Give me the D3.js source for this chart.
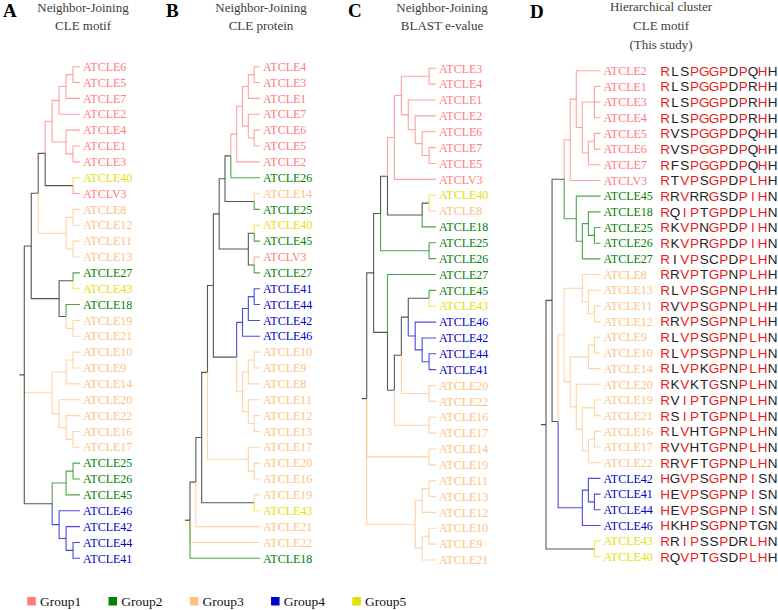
<!DOCTYPE html>
<html><head><meta charset="utf-8">
<script src="https://cdn.jsdelivr.net/npm/d3@7"></script>
<style>body{margin:0;background:#fff}svg{display:block}</style>
</head><body>
<svg id="c" width="778" height="610"></svg>
<script>
// ---------- DATA ----------
const groupNames = ["Group1","Group2","Group3","Group4","Group5"];
const group1 = ["ATCLE1","ATCLE2","ATCLE3","ATCLE4","ATCLE5","ATCLE6","ATCLE7","ATCLV3"];
const group2 = ["ATCLE18","ATCLE25","ATCLE26","ATCLE27","ATCLE45"];
const group3 = ["ATCLE8","ATCLE9","ATCLE10","ATCLE11","ATCLE12","ATCLE13","ATCLE14","ATCLE16","ATCLE17","ATCLE19","ATCLE20","ATCLE21","ATCLE22"];
const group4 = ["ATCLE41","ATCLE42","ATCLE44","ATCLE46"];
const group5 = ["ATCLE40","ATCLE43"];

const panelLetters = ["A","B","C","D"];
const panelTitles = [
  ["Neighbor-Joining","CLE motif"],
  ["Neighbor-Joining","CLE protein"],
  ["Neighbor-Joining","BLAST e-value"],
  ["Hierarchical cluster","CLE motif","(This study)"]
];
// tree topologies (Newick); "#" marks a clade whose stem is drawn dark
const treeA = "((((((((ATCLE6,ATCLE5),ATCLE7),ATCLE2),(ATCLE4,(ATCLE1,ATCLE3))),(ATCLE40,ATCLV3)),((ATCLE8,ATCLE12),(ATCLE11,ATCLE13))),((ATCLE27,ATCLE43),(ATCLE18,(ATCLE19,ATCLE21)))),(((ATCLE10,ATCLE9),ATCLE14),(ATCLE20,(ATCLE22,(ATCLE16,ATCLE17)))),(((ATCLE25,ATCLE26),ATCLE45),(ATCLE46,(ATCLE42,(ATCLE44,ATCLE41)))))";
const treeB = "((((((((((((ATCLE4,ATCLE3),ATCLE1),(ATCLE7,(ATCLE6,ATCLE5))),ATCLE2),ATCLE26),(ATCLE14,ATCLE25)),((ATCLE40,ATCLE45),(ATCLV3,ATCLE27))),((((ATCLE41,ATCLE44),ATCLE42),ATCLE46),(((ATCLE10,ATCLE9),ATCLE8),(ATCLE11,(ATCLE12,ATCLE13))))),(ATCLE17,(ATCLE20,ATCLE16))),(ATCLE19,ATCLE43)),ATCLE21),ATCLE22,ATCLE18)";
const treeC = "(((((((ATCLE3,ATCLE4),(ATCLE1,(ATCLE2,(ATCLE6,(ATCLE7,ATCLE5))))),ATCLV3),((ATCLE40,ATCLE8),ATCLE18)),(ATCLE25,ATCLE26)),(ATCLE27,((((ATCLE45,ATCLE43),(ATCLE46,(ATCLE42,(ATCLE44,ATCLE41)))),(ATCLE20,ATCLE22)),(ATCLE16,ATCLE17)))),(ATCLE14,ATCLE19),(((ATCLE11,ATCLE13),ATCLE12),((ATCLE10,ATCLE9),ATCLE21)))";
const treeD = "(((((ATCLE2,((ATCLE1,ATCLE3,ATCLE4),((ATCLE5,ATCLE6),ATCLE7))),ATCLV3),(ATCLE45,((ATCLE18,(ATCLE25,ATCLE26)),ATCLE27))),(((ATCLE8,(ATCLE13,(ATCLE11,ATCLE12))),(((ATCLE9,ATCLE10),ATCLE14),(ATCLE20,((ATCLE19,ATCLE21),((ATCLE16,ATCLE17),ATCLE22))))),((ATCLE42,(ATCLE41,ATCLE44)),ATCLE46))),(ATCLE43,ATCLE40)#)";

// CLE motif sequences (panel D)
const motifNames = ["ATCLE2","ATCLE1","ATCLE3","ATCLE4","ATCLE5","ATCLE6","ATCLE7","ATCLV3","ATCLE45","ATCLE18","ATCLE25","ATCLE26","ATCLE27","ATCLE8","ATCLE13","ATCLE11","ATCLE12","ATCLE9","ATCLE10","ATCLE14","ATCLE20","ATCLE19","ATCLE21","ATCLE16","ATCLE17","ATCLE22","ATCLE42","ATCLE41","ATCLE44","ATCLE46","ATCLE43","ATCLE40"];
const motifSeqs = ["RLSPGGPDPQHH","RLSPGGPDPRHH","RLSPGGPDPRHH","RLSPGGPDPRHH","RVSPGGPDPQHH","RVSPGGPDPQHH","RFSPGGPDPQHH","RTVPSGPDPLHH","RRVRRGSDPIHN","RQIPTGPDPLHN","RKVPNGPDPIHN","RKVPRGPDPIHN","RIVPSCPDPLHN","RRVPTGPNPLHH","RLVPSGPNPLHH","RVVPSGPNPLHH","RRVPSGPNPLHH","RLVPSGPNPLHN","RLVPSGPNPLHN","RLVPKGPNPLHN","RKVKTGSNPLHN","RVIPTGPNPLHN","RSIPTGPNPLHN","RLVHTGPNPLHN","RVVHTGPNPLHN","RRVFTGPNPLHN","HGVPSGPNPISN","HEVPSGPNPISN","HEVPSGPNPISN","HKHPSGPNPTGN","RRIPSSPDRLHN","RQVPTGSDPLHH"];
// residues highlighted (red) at each motif position
const conserved = ["RH","","VI","P","G","G","P","","P","LI","H",""];

// ---------- STYLE / LAYOUT ----------
const groupColors = ["#FF7B7B","#008000","#FFC080","#0000CD","#E2E200"];
const darkColor = "#3a3a3a";
const panels = [
  {tree:treeA, rootX:24.3, leafX:80,  y0:66.7, y1:558.3, letterX:3,   titleX:83},
  {tree:treeB, rootX:190,  leafX:260, y0:66.7, y1:558.3, letterX:166, titleX:261},
  {tree:treeC, rootX:366.7,leafX:436, y0:68.3, y1:560,   letterX:348, titleX:442},
  {tree:treeD, rootX:546,  leafX:600.5,y0:70.7,y1:556.8, letterX:530, titleX:661}
];

const groupOf = new Map();
[group1,group2,group3,group4,group5].forEach((g,i)=>g.forEach(n=>groupOf.set(n,i)));
const color = d3.scaleOrdinal().domain([0,1,2,3,4]).range(groupColors);

function parseNewick(s){
  let i=0;
  function node(){
    const n={};
    if(s[i]==='('){
      i++; n.children=[];
      while(true){
        n.children.push(node());
        if(s[i]===','){i++;continue;}
        break;
      }
      i++; // ')'
    }
    let name='';
    while(i<s.length && !',();'.includes(s[i])) name+=s[i++];
    n.name=name;
    return n;
  }
  return node();
}

const svg = d3.select("#c");
const serif = "'Liberation Serif','Times New Roman',serif";

panels.forEach((p,pi)=>{
  const g = svg.append("g");
  // letter
  g.append("text").attr("x",p.letterX).attr("y",pi===3?18:17)
    .attr("font-family",serif).attr("font-weight","bold").attr("font-size",19)
    .attr("fill","#000").text(panelLetters[pi]);
  // titles
  const tl = panelTitles[pi];
  const base = pi===3 ? 10.5 : 12;
  const step = pi===3 ? 19 : 17.5;
  tl.forEach((t,k)=>{
    g.append("text").attr("x",p.titleX).attr("y",base+k*step)
      .attr("text-anchor","middle").attr("font-family",serif).attr("font-size",13)
      .attr("fill","#3c3c3c").text(t);
  });

  const root = d3.hierarchy(parseNewick(p.tree));
  const leaves = root.leaves();
  const y = d3.scaleLinear().domain([0,leaves.length-1]).range([p.y0,p.y1]);
  const x = d3.scaleLinear().domain([root.height,0]).range([p.rootX,p.leafX]);
  leaves.forEach((l,i)=>{l.py=y(i);});
  root.eachAfter(n=>{
    n.px = x(n.height);
    if(n.children){
      n.py = (n.children[0].py + n.children[n.children.length-1].py)/2;
      const gs = n.children.map(c=>c.grp);
      n.grp = gs.every(v=>v!==null && v===gs[0]) ? gs[0] : null;
    } else {
      n.grp = groupOf.get(n.data.name);
    }
    n.stem = n.data.name==='#' ? null : n.grp;
  });

  const links = root.links();
  g.append("g").selectAll("path").data(links).join("path")
    .attr("d",d=>`M${d.source.px},${d.source.py}V${d.target.py}H${d.target.px}`)
    .attr("fill","none")
    .attr("stroke",d=>d.target.stem===null?darkColor:color(d.target.stem))
    .attr("stroke-opacity",d=>d.target.stem===null?0.85:0.7)
    .attr("stroke-width",1.1);
  // root stub
  g.append("path").attr("d",`M${root.px-5},${root.py}H${root.px}`)
    .attr("stroke",darkColor).attr("stroke-width",1.1);

  // labels
  g.append("g").selectAll("text").data(leaves).join("text")
    .attr("x",p.leafX+3).attr("y",d=>d.py).attr("dy","0.35em")
    .attr("font-family",serif).attr("font-size",12)
    .attr("fill",d=>color(d.grp)).text(d=>d.data.name);

  if(pi===3){
    const seqG = g.append("g");
    const cx = d3.scaleLinear().domain([0,11]).range([665.2,772.5]);
    leaves.forEach(l=>{
      const idx = motifNames.indexOf(l.data.name);
      const seq = motifSeqs[idx];
      seqG.selectAll(null).data(seq.split("")).join("text")
        .attr("x",(c,k)=>cx(k)).attr("y",l.py).attr("dy","0.36em")
        .attr("text-anchor","middle")
        .attr("font-family","'Liberation Sans',Arial,sans-serif").attr("font-size",13.5)
        .attr("fill",(c,k)=>conserved[k].includes(c)?"#F01818":"#222")
        .text(c=>c);
    });
  }
});

// legend
const lx = d3.scaleLinear().domain([0,4]).range([27.3,352.3]);
const lg = svg.append("g").selectAll("g").data(groupNames).join("g")
  .attr("transform",(d,i)=>`translate(${lx(i)},597)`);
lg.append("rect").attr("width",8.5).attr("height",8.5).attr("fill",(d,i)=>color(i));
lg.append("text").attr("x",12.7).attr("y",8.7).attr("font-family",serif)
  .attr("font-size",13.5).attr("fill","#111").text(d=>d);
</script>
</body></html>
